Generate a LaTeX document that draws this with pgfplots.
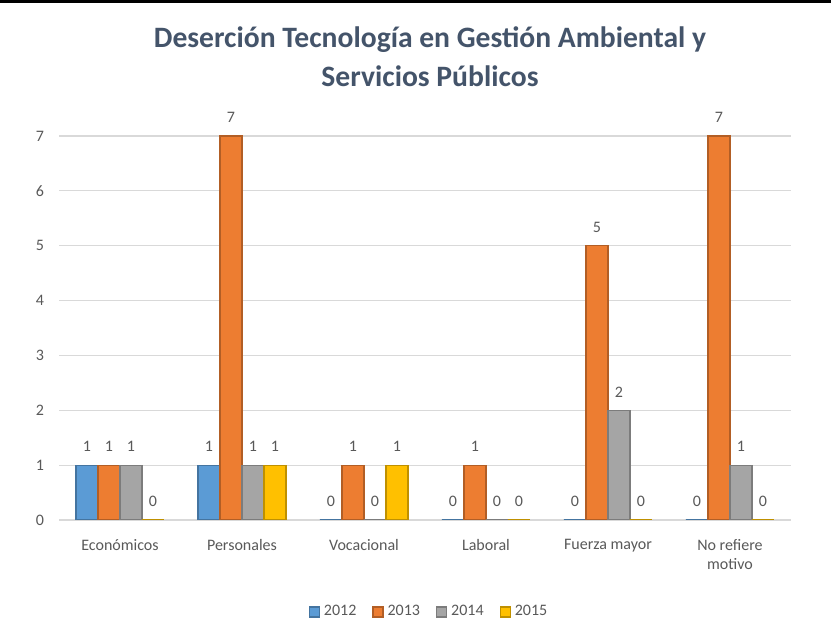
\documentclass[border=0pt]{standalone}
\usepackage{pgfplots}
\pgfplotsset{compat=1.18}
\usepackage{fontspec}
\setmainfont{Carlito}
\definecolor{c12}{HTML}{5B9BD5}
\definecolor{c13}{HTML}{ED7D31}
\definecolor{c14}{HTML}{A5A5A5}
\definecolor{c15}{HTML}{FFC000}
\definecolor{titlec}{HTML}{44546A}
\definecolor{txt}{HTML}{595959}
\begin{document}
\begin{tikzpicture}
\path[use as bounding box, fill=white] (0,0) rectangle (415.5pt,320pt);
\fill[black] (0,318.5pt) rectangle (415.5pt,320pt);
\node[font=\fontsize{14.8}{17}\selectfont\bfseries, text=titlec] at (215pt,300pt) {Deserción Tecnología en Gestión Ambiental y};
\node[font=\fontsize{14.8}{17}\selectfont\bfseries, text=titlec] at (215pt,282pt) {Servicios Públicos};
\begin{axis}[
  at={(29.5pt,60pt)}, anchor=south west,
  scale only axis, width=366pt, height=192pt,
  ybar=0pt, bar width=11pt,
  xmin=-0.5, xmax=5.5, ymin=0, ymax=7,
  xtick={0,1,2,3,4,5},
  xticklabels={Económicos,Personales,Vocacional,Laboral,Fuerza mayor,No refiere\\motivo},
  xticklabel style={align=center, text=txt, font=\fontsize{8}{9.5}\selectfont, yshift=-6pt},
  ytick={0,1,...,7},
  yticklabel style={text=txt, font=\fontsize{8}{9.5}\selectfont, xshift=-4pt},
  /pgf/number format/assume math mode=true,
  major tick length=0pt,
  ymajorgrids, grid style={draw=black!15, line width=0.6pt},
  axis line style={draw=none},
  nodes near coords,
  every node near coord/.append style={text=txt, font=\fontsize{8}{9.5}\selectfont, yshift=3pt},
  legend style={at={(215pt-29.5pt,-46pt)}, anchor=center, legend columns=4, draw=none,
    font=\fontsize{8}{9.5}\selectfont, text=txt, /tikz/every even column/.append style={column sep=6pt}},
  legend image code/.code={\fill[#1] (0pt,-2.5pt) rectangle (5pt,2.5pt);},
]
\addplot[fill=c12, draw=c12!75!black, line width=0.6pt] coordinates {(0,1) (1,1) (2,0) (3,0) (4,0) (5,0)};
\addplot[fill=c13, draw=c13!75!black, line width=0.6pt] coordinates {(0,1) (1,7) (2,1) (3,1) (4,5) (5,7)};
\addplot[fill=c14, draw=c14!75!black, line width=0.6pt] coordinates {(0,1) (1,1) (2,0) (3,0) (4,2) (5,1)};
\addplot[fill=c15, draw=c15!75!black, line width=0.6pt] coordinates {(0,0) (1,1) (2,1) (3,0) (4,0) (5,0)};
\legend{2012,2013,2014,2015}
\end{axis}
\end{tikzpicture}
\end{document}
